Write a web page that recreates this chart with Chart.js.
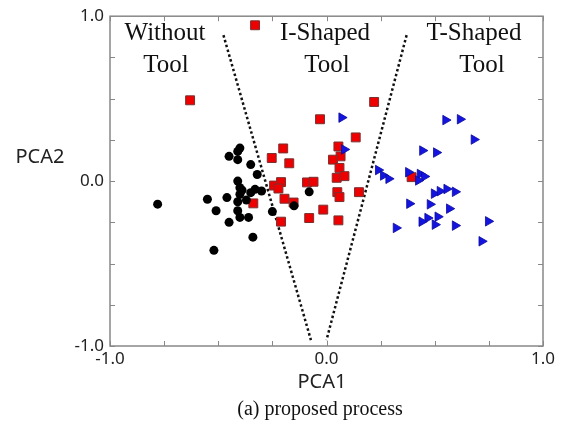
<!DOCTYPE html>
<html lang="en">
<head>
<meta charset="UTF-8">
<title>PCA proposed process</title>
<script src="https://cdn.jsdelivr.net/npm/chart.js"></script>
<style>
  body { margin: 0; background: #fff; }
  canvas { display: block; }
</style>
</head>
<body>
<canvas id="myChart" width="569" height="432"></canvas>
<script>
// PCA scores, [PCA1, PCA2]
const withoutTool = [
  [-0.78,-0.14],[-0.52,-0.42],[-0.55,-0.11],[-0.51,-0.18],[-0.46,-0.10],[-0.45,0.15],
  [-0.45,-0.25],[-0.41,0.13],[-0.41,0.18],[-0.40,0.20],[-0.41,0.00],[-0.40,-0.04],
  [-0.39,-0.055],[-0.40,-0.08],[-0.41,-0.125],[-0.41,-0.18],[-0.40,-0.22],[-0.37,-0.115],
  [-0.36,-0.22],[-0.35,-0.07],[-0.35,0.10],[-0.34,-0.34],[-0.33,-0.05],[-0.32,0.04],
  [-0.30,-0.06],[-0.25,-0.185],[-0.15,-0.15],[-0.08,-0.065]
];
const iShaped = [
  [-0.33,0.945],[-0.63,0.49],[0.22,0.48],[-0.03,0.375],[0.135,0.265],[0.055,0.21],
  [0.065,0.15],[0.03,0.13],[0.06,0.08],[0.047,0.02],[0.083,0.03],[0.05,-0.067],
  [0.06,-0.097],[0.15,-0.067],[-0.015,-0.173],[0.055,-0.238],[-0.08,-0.224],[-0.21,-0.246],
  [-0.152,-0.13],[-0.194,-0.107],[-0.242,-0.027],[-0.21,-0.006],[-0.222,-0.045],[-0.09,-0.008],
  [-0.06,-0.004],[-0.20,0.198],[-0.253,0.14],[-0.172,0.108],[-0.338,-0.135],[0.393,0.024]
];
const tShaped = [
  [0.07,0.385],[0.082,0.192],[0.55,0.37],[0.617,0.375],[0.681,0.252],[0.443,0.185],
  [0.507,0.173],[0.239,0.067],[0.262,0.034],[0.287,0.014],[0.378,0.054],[0.432,0.043],
  [0.452,0.028],[0.424,0.004],[0.497,-0.076],[0.524,-0.061],[0.555,-0.048],[0.594,-0.065],
  [0.383,-0.137],[0.478,-0.141],[0.567,-0.167],[0.514,-0.216],[0.467,-0.224],[0.44,-0.246],
  [0.501,-0.264],[0.594,-0.27],[0.321,-0.284],[0.747,-0.244],[0.717,-0.365]
];
// dotted dividing lines
const leftDivider = [[-0.476,0.885],[-0.072,-0.964]];
const rightDivider = [[0.37,0.885],[0.0,-0.964]];
// tick marks every 0.25, labels only at -1, 0, 1
const tickValues = [-1,-0.75,-0.5,-0.25,0,0.25,0.5,0.75,1];
const labelValues = [-1,0,1];

const toXY = arr => arr.map(p => ({x: p[0], y: p[1]}));

// frame, inward ticks and the free text
const decorPlugin = {
  id: 'decor',
  afterDatasetsDraw(chart) {
    const {ctx, chartArea: a, scales: {x, y}} = chart;
    ctx.save();
    ctx.strokeStyle = '#888';
    ctx.lineWidth = 1.5;
    ctx.strokeRect(a.left, a.top, a.right - a.left, a.bottom - a.top);
    ctx.lineWidth = 1;
    ctx.beginPath();
    tickValues.forEach(v => {
      const px = Math.round(x.getPixelForValue(v)) + 0.5;
      const py = Math.round(y.getPixelForValue(v)) + 0.5;
      ctx.moveTo(px, a.bottom); ctx.lineTo(px, a.bottom - 5);
      ctx.moveTo(px, a.top); ctx.lineTo(px, a.top + 5);
      ctx.moveTo(a.left, py); ctx.lineTo(a.left + 5, py);
      ctx.moveTo(a.right, py); ctx.lineTo(a.right - 5, py);
    });
    ctx.stroke();

    ctx.fillStyle = '#111';
    ctx.textAlign = 'center';
    ctx.textBaseline = 'alphabetic';
    ctx.font = '25px "Liberation Serif", serif';
    ctx.fillText('Without', 165, 40);
    ctx.fillText('Tool', 166, 72);
    ctx.fillText('I-Shaped', 325, 40);
    ctx.fillText('Tool', 327, 72);
    ctx.fillText('T-Shaped', 474, 40);
    ctx.fillText('Tool', 482, 72);

    ctx.fillStyle = '#222';
    ctx.font = '20px "Noto Sans", sans-serif';
    ctx.textBaseline = 'middle';
    ctx.fillText('PCA2', 40, 157);
    ctx.fillText('PCA1', 322, 382);

    ctx.fillStyle = '#111';
    ctx.font = '20px "Liberation Serif", serif';
    ctx.fillText('(a) proposed process', 320, 410);
    ctx.restore();
  }
};

const ctx = document.getElementById('myChart').getContext('2d');
new Chart(ctx, {
  type: 'scatter',
  data: {
    datasets: [
      {
        label: 'Without Tool',
        data: toXY(withoutTool),
        pointStyle: 'circle',
        pointRadius: 4.5,
        backgroundColor: '#000',
        borderColor: '#000',
        borderWidth: 0
      },
      {
        label: 'T-Shaped Tool',
        data: toXY(tShaped),
        pointStyle: 'triangle',
        rotation: 90,
        pointRadius: 5.5,
        backgroundColor: '#1414e0',
        borderColor: '#0a0a9a',
        borderWidth: 0.8
      },
      {
        label: 'I-Shaped Tool',
        data: toXY(iShaped),
        pointStyle: 'rect',
        pointRadius: 6.3,
        backgroundColor: '#ee0000',
        borderColor: '#7a3030',
        borderWidth: 1
      },
      {
        data: toXY(leftDivider),
        showLine: true,
        pointRadius: 0,
        borderColor: '#111',
        borderWidth: 2.5,
        borderDash: [2.5, 2.5]
      },
      {
        data: toXY(rightDivider),
        showLine: true,
        pointRadius: 0,
        borderColor: '#111',
        borderWidth: 2.5,
        borderDash: [2.5, 2.5]
      }
    ]
  },
  options: {
    responsive: false,
    animation: false,
    devicePixelRatio: 1,
    layout: { padding: { top: 10, right: 26, left: 0, bottom: 0 } },
    plugins: { legend: { display: false }, tooltip: { enabled: false } },
    scales: {
      x: {
        type: 'linear', min: -1, max: 1,
        grid: { display: false, drawTicks: false },
        border: { display: false },
        afterFit: s => { s.height = 86; },
        afterBuildTicks: s => { s.ticks = labelValues.map(v => ({value: v})); },
        ticks: {
          padding: 3,
          maxRotation: 0,
          color: '#222',
          font: { family: '"Noto Sans", sans-serif', size: 17 },
          callback: v => v.toFixed(1)
        }
      },
      y: {
        type: 'linear', min: -1, max: 1,
        grid: { display: false, drawTicks: false },
        border: { display: false },
        afterFit: s => { s.width = 110; },
        afterBuildTicks: s => { s.ticks = labelValues.map(v => ({value: v})); },
        ticks: {
          padding: 6,
          color: '#222',
          font: { family: '"Noto Sans", sans-serif', size: 17 },
          callback: v => v.toFixed(1)
        }
      }
    }
  },
  plugins: [decorPlugin]
});
</script>
</body>
</html>
